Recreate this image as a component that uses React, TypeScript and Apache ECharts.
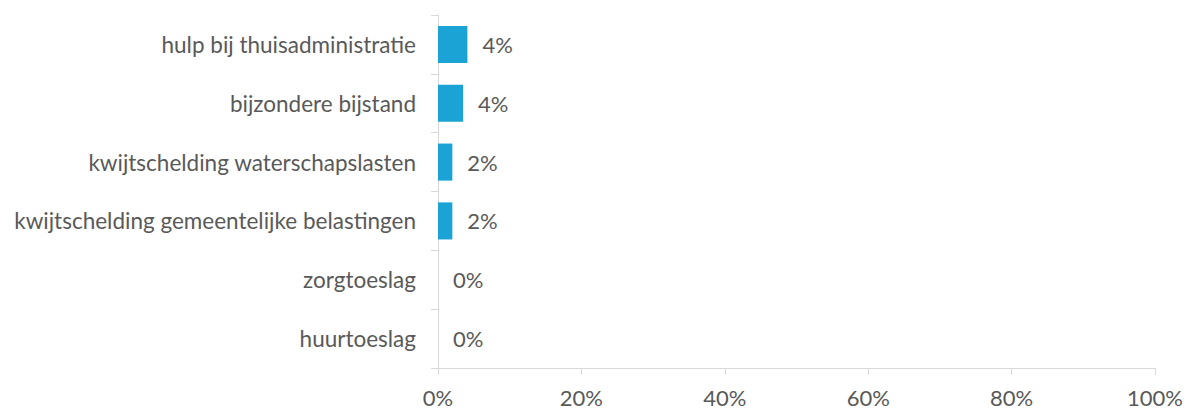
import React, { useEffect, useRef } from "react";
import * as echarts from "echarts";

const categories = [
  "hulp bij thuisadministratie",
  "bijzondere bijstand",
  "kwijtschelding waterschapslasten",
  "kwijtschelding gemeentelijke belastingen",
  "zorgtoeslag",
  "huurtoeslag",
];
const values = [4.1, 3.5, 2.0, 2.0, 0, 0];
const xTicks = [0, 20, 40, 60, 80, 100];

const FONT = "Lato";
const TEXT = "#595959";
const AXIS = "#d9d9d9";

export default function App() {
  const ref = useRef<HTMLDivElement>(null);
  useEffect(() => {
    if (!ref.current) return;
    const chart = echarts.init(ref.current, undefined, { renderer: "svg" });
    chart.setOption({
      animation: false,
      grid: { left: 438, right: 29, top: 15, bottom: 41, containLabel: false },
      xAxis: {
        type: "value",
        min: xTicks[0],
        max: xTicks[xTicks.length - 1],
        interval: 20,
        splitLine: { show: false },
        axisLine: { show: true, lineStyle: { color: AXIS, width: 1 } },
        axisTick: { show: true, length: 7, lineStyle: { color: AXIS } },
        axisLabel: {
          formatter: (v: number) => v + "%",
          color: TEXT,
          fontFamily: FONT,
          fontSize: 22,
          margin: 18,
        },
      },
      yAxis: {
        type: "category",
        data: categories,
        inverse: true,
        axisLine: { show: true, lineStyle: { color: AXIS, width: 1 } },
        axisTick: { show: true, length: 7, alignWithLabel: false, lineStyle: { color: AXIS } },
        axisLabel: {
          color: TEXT,
          fontFamily: FONT,
          fontSize: 22.5,
          margin: 22,
        },
      },
      series: [
        {
          type: "bar",
          data: values,
          barWidth: "63%",
          itemStyle: { color: "#1ba3d6" },
          label: {
            show: true,
            position: "right",
            distance: 15,
            formatter: (p: any) => Math.round(p.value) + "%",
            color: TEXT,
            fontFamily: FONT,
            fontSize: 22,
          },
        },
      ],
    });
    return () => chart.dispose();
  }, []);
  return (
    <div
      ref={ref}
      style={{ position: "fixed", left: 0, top: 0, width: 1186, height: 409, background: "#fff" }}
    />
  );
}
